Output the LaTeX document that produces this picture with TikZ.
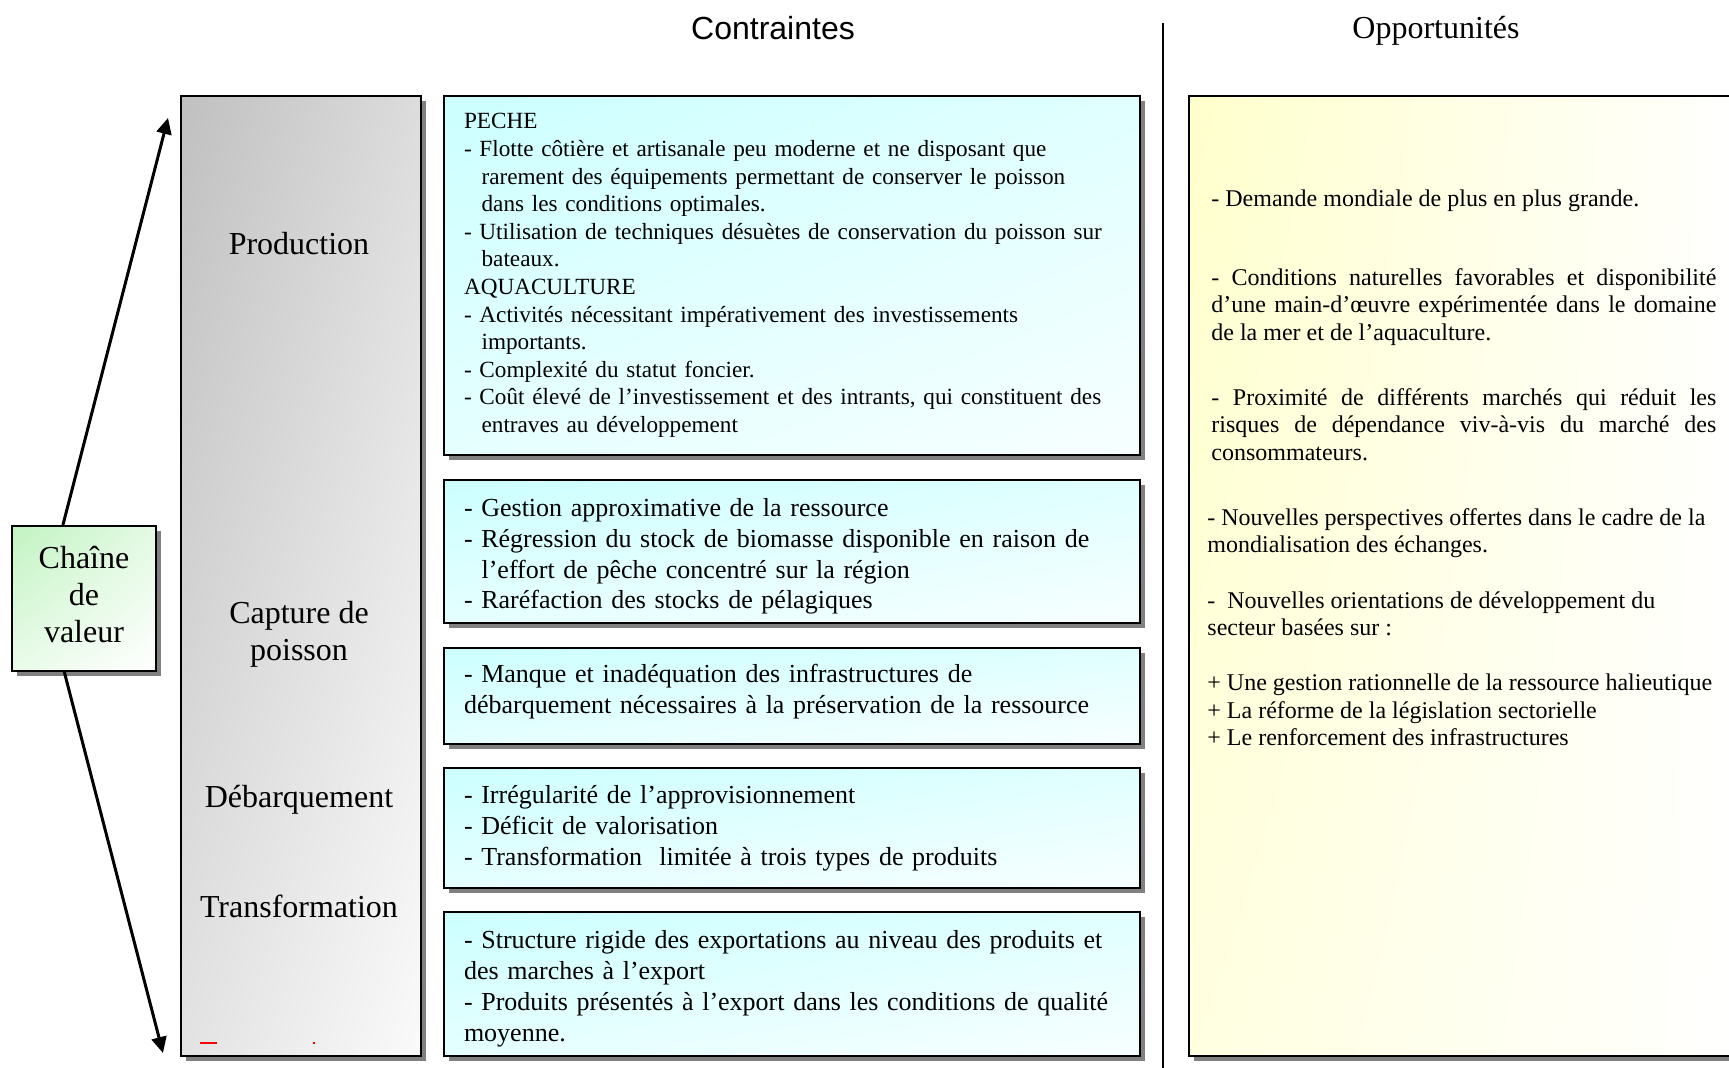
\documentclass[tikz,border=0pt]{standalone}
\usepackage{fontspec}
\setmainfont{Liberation Serif}
\newfontfamily\headsans{Liberation Sans}
\usetikzlibrary{positioning, arrows.meta, shadows, shadings}
\definecolor{greytop}{HTML}{C0C0C0}
\definecolor{cyantop}{HTML}{CCFFFF}
\definecolor{yellowtop}{HTML}{FFFFCC}
\definecolor{greentop}{HTML}{C2F3C2}
\newcommand{\labelfont}{\fontsize{16}{18.6}\selectfont}
\newcommand{\smallboxfont}{\fontsize{11.6}{13.8}\selectfont}
\newcommand{\boxfont}{\fontsize{13}{15.4}\selectfont}
\newcommand{\oppfont}{\fontsize{12}{13.75}\selectfont}
\newcommand{\contind}{\hspace*{8.8pt}}
\newcommand{\jline}[1]{\makebox[252.5pt][s]{#1}}
\tikzset{
  shadowed/.style={drop shadow={shadow xshift=2.5pt, shadow yshift=-2.5pt, fill=black!50, opacity=1}},
  stagebox/.style={draw=black, line width=1pt, shadowed, upper left=greytop, upper right=greytop!55,
    lower left=greytop!45, lower right=greytop!8, minimum width=120pt, minimum height=480pt, inner sep=0pt},
  constraint/.style={draw=black, line width=1pt, shadowed, upper left=cyantop, upper right=cyantop!60,
    lower left=cyantop!50, lower right=cyantop!15, text width=328pt, inner xsep=10pt, inner ysep=0pt,
    align=left, font=\boxfont},
  opportbox/.style={draw=black, line width=1pt, shadowed, upper left=yellowtop, upper right=white,
    lower left=yellowtop!60, lower right=white, minimum width=278.5pt, minimum height=480pt, inner sep=0pt},
  chainbox/.style={draw=black, line width=1pt, shadowed, upper left=greentop, upper right=greentop!45,
    lower left=greentop!35, lower right=white, minimum width=72pt, minimum height=72.5pt, inner sep=0pt,
    align=center, font=\fontsize{16}{18.5}\selectfont},
  stagelabel/.style={font=\labelfont, align=center, inner sep=0pt},
  opptext/.style={font=\oppfont, align=left, inner sep=0pt, anchor=west},
  valarrow/.style={line width=1.5pt, -{Triangle[length=8pt,width=7.5pt]}}
}
\begin{document}
\begin{tikzpicture}[x=0.5pt,y=-0.5pt]
    \useasboundingbox (0,0) rectangle (1729,1068);
    \node[font=\headsans\fontsize{16}{19}\selectfont] (tcontr) at (773,28) {Contraintes};
    \node[font=\fontsize{16}{19}\selectfont] (topp) at (1436,31) {Opportunités};
    \draw[line width=1pt] (1163,23) -- (1163,1068);

    \node[stagebox, anchor=north west] (stages) at (180,95) {};
    \foreach \y/\name/\txt in {244/prod/Production, 634/capt/{Capture de\\poisson},
                                800/deb/Débarquement, 906/trans/Transformation}{
        \node[stagelabel] (stage-\name) at (299,\y) {\txt};
    }
    \fill[red] (200,1042) rectangle (217,1044);
    \fill[red] (313,1042) rectangle (315,1044);

    \node[constraint, font=\smallboxfont, minimum height=179.5pt, anchor=north west] (peche) at (443,95)
        {PECHE\\
         - Flotte côtière et artisanale peu moderne et ne disposant que\\
         \contind rarement des équipements permettant de conserver le poisson\\
         \contind dans les conditions optimales.\\
         - Utilisation de techniques désuètes de conservation du poisson sur\\
         \contind bateaux.\\
         AQUACULTURE\\
         - Activités nécessitant impérativement des investissements\\
         \contind importants.\\
         - Complexité du statut foncier.\\
         - Coût élevé de l’investissement et des intrants, qui constituent des\\
         \contind entraves au développement};
    \node[constraint, minimum height=71.5pt, below=11.5pt of peche] (capture)
        {\rule{0pt}{14pt}- Gestion approximative de la ressource\\
         - Régression du stock de biomasse disponible en raison de\\
         \contind l’effort de pêche concentré sur la région\\
         - Raréfaction des stocks de pélagiques};
    \node[constraint, minimum height=48pt, below=11.5pt of capture] (debarq)
        {- Manque et inadéquation des infrastructures de\\
         débarquement nécessaires à la préservation de la ressource\rule[-7pt]{0pt}{7pt}};
    \node[constraint, minimum height=60pt, below=11pt of debarq] (transf)
        {- Irrégularité de l’approvisionnement\\
         - Déficit de valorisation\\
         - Transformation\ \ limitée à trois types de produits};
    \node[constraint, minimum height=72pt, below=11pt of transf] (export)
        {\rule{0pt}{14pt}- Structure rigide des exportations au niveau des produits et\\
         des marches à l’export\\
         - Produits présentés à l’export dans les conditions de qualité\\
         moyenne.};

    \node[opportbox, anchor=north west] (opport) at (1188,95) {};
    \node[opptext] (opp-dem) at (1211,200.5) {- Demande mondiale de plus en plus grande.};
    \node[opptext] (opp-cond) at (1211,307)
        {\jline{- Conditions naturelles favorables et disponibilité}\\
         \jline{d’une main-d’œuvre expérimentée dans le domaine}\\
         de la mer et de l’aquaculture.};
    \node[opptext] (opp-prox) at (1211,424.5)
        {\jline{- Proximité de différents marchés qui réduit les}\\
         \jline{risques de dépendance viv-à-vis du marché des}\\
         consommateurs.};
    \node[opptext] (opp-persp) at (1207,533)
        {- Nouvelles perspectives offertes dans le cadre de la\\
         mondialisation des échanges.};
    \node[opptext] (opp-orient) at (1207,614)
        {-\ \ Nouvelles orientations de développement du\\
         secteur basées sur :};
    \node[opptext] (opp-plus) at (1207,710)
        {+ Une gestion rationnelle de la ressource halieutique\\
         + La réforme de la législation sectorielle\\
         + Le renforcement des infrastructures};

    \node[chainbox] (chaine) at (84,598.5) {Chaîne\\de\\valeur\rule[-4.4pt]{0pt}{4.4pt}};
    \coordinate (vtop) at (168,118);
    \coordinate (vbot) at (163,1053);
    \draw[valarrow] (chaine.106) -- (vtop);
    \draw[valarrow] (chaine.255) -- (vbot);
\end{tikzpicture}
\end{document}
